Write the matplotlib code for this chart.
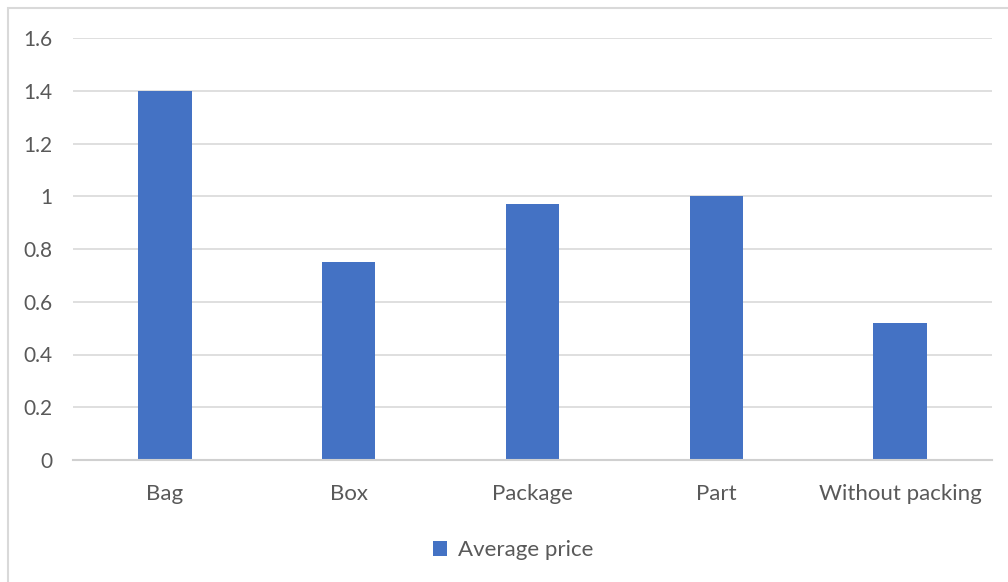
import matplotlib.pyplot as plt
from matplotlib.patches import Rectangle

# data
categories = ["Bag", "Box", "Package", "Part", "Without packing"]
avg_price = [1.4, 0.75, 0.97, 1.0, 0.52]
yticks = [0, 0.2, 0.4, 0.6, 0.8, 1.0, 1.2, 1.4, 1.6]
ytick_labels = ["0", "0.2", "0.4", "0.6", "0.8", "1", "1.2", "1.4", "1.6"]

bar_col = "#4472C4"
txt_col = "#595959"

plt.rcParams['font.family'] = ['Lato', 'DejaVu Sans']

fig = plt.figure(figsize=(10.08, 5.82), dpi=100)
W, H = 1008, 582
# plot area in pixels: x 73..992, y 38..460
ax = fig.add_axes([73 / W, 1 - 460 / H, (992 - 73) / W, (460 - 38) / H])

x = list(range(len(categories)))
ax.bar(x, avg_price, width=0.29, color=bar_col, zorder=3, label="Average price")

ax.set_xlim(-0.5, len(categories) - 0.5)
ax.set_ylim(0, 1.6)
ax.set_yticks(yticks)
ax.set_yticklabels(ytick_labels)
ax.set_xticks(x)
ax.set_xticklabels(categories)
ax.grid(axis="y", color="#D9D9D9", linewidth=1.2, zorder=0)
ax.tick_params(axis="both", length=0, colors=txt_col)
ax.tick_params(axis="y", pad=15, labelsize=15)
ax.tick_params(axis="x", pad=17.5, labelsize=16)
for s in ["top", "right", "left"]:
    ax.spines[s].set_visible(False)
ax.spines["bottom"].set_color("#D0D0D0")
ax.spines["bottom"].set_linewidth(1.5)
ax.spines["bottom"].set_zorder(4)

leg = fig.legend(loc="center", bbox_to_anchor=(513 / W, 1 - 550 / H), frameon=False,
                 fontsize=16, handlelength=0.65, handleheight=0.65, handletextpad=0.5)
for t in leg.get_texts():
    t.set_color(txt_col)

# chart border (only left and top visible in the crop)
fig.add_artist(Rectangle((7.5 / W, -0.1), 1.2, (1 - 7.5 / H) + 0.1, transform=fig.transFigure,
                         fill=False, edgecolor="#D9D9D9", linewidth=1.5))

fig.savefig("out.png", dpi=100)
